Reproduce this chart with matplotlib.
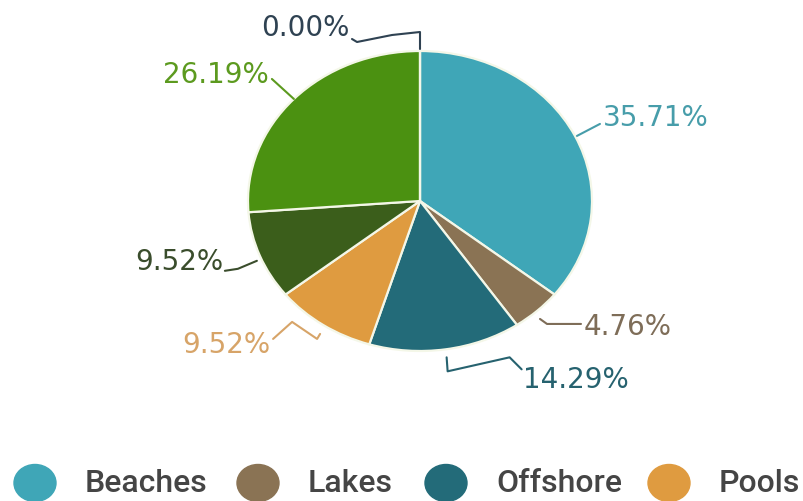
import numpy as np
import matplotlib
matplotlib.use("Agg")
import matplotlib.pyplot as plt
from matplotlib.patches import Ellipse

categories = ["Beaches", "Lakes", "Offshore", "Pools", "Rivers", "Lagoons", "Other"]
values = [35.71, 4.76, 14.29, 9.52, 9.52, 26.19, 0.00]
colors = ["#3FA6B7", "#8A7354", "#236B79", "#DF9B40", "#3B5E1B", "#4B9111", "#2C4356"]
label_colors = ["#479DAA", "#7E6D58", "#26626F", "#D7A468", "#3A4D2C", "#5C9A1F", "#2F4252"]
legend_items = 4

plt.rcParams['font.family'] = ['DejaVu Sans']

W, H = 804, 502
fig = plt.figure(figsize=(W / 100, H / 100), dpi=100)

cx, cy, rx, ry = 420, 202, 172, 150
ax = fig.add_axes([(cx - rx) / W, 1 - (cy + ry) / H, 2 * rx / W, 2 * ry / H])
wedges, _ = ax.pie(values, colors=colors, startangle=90, counterclock=False,
                   radius=1, wedgeprops=dict(edgecolor="#F4F7E8", linewidth=1.6))
ax.set_xlim(-1, 1)
ax.set_ylim(-1, 1)
ax.set_aspect('auto')
ax.axis('off')

ov = fig.add_axes([0, 0, 1, 1])
ov.set_xlim(0, W)
ov.set_ylim(H, 0)
ov.axis('off')

# label text positions and connector paths (pixel offsets relative to wedge mid-point on the rim)
text_pos = [(656, 118), (628, 327), (576, 380), (226, 345), (179, 262), (216, 75), (305, 28)]
connectors = [
    [(2, 0), (25, -12)],
    [(3, 8), (10, 13), (44, 13)],
    [(1, 8), (2, 22), (64, 8), (76, 20)],
    [(-3, 9), (-6, 14), (-31, -3), (-50, 14)],
    [(-3, 5), (-22, 13), (-35, 15)],
    [(0, 0), (-22, -20)],
    [(0, -2), (0, -19), (-28, -16), (-63, -9), (-68, -12)],
]

total = sum(values)
start = 90.0
for i, v in enumerate(values):
    ang = start - v / total * 360 / 2
    start -= v / total * 360
    px = cx + rx * np.cos(np.radians(ang))
    py = cy - ry * np.sin(np.radians(ang))
    pts = np.array(connectors[i], dtype=float) + np.array([px, py])
    ov.plot(pts[:, 0], pts[:, 1], color=label_colors[i], lw=1.5, solid_capstyle='round',
            solid_joinstyle='round')
    ov.text(text_pos[i][0], text_pos[i][1], f"{v:.2f}%", color=label_colors[i],
            fontsize=20, ha='center', va='center')

# legend
lx = [35, 258, 446, 669]
for i in range(legend_items):
    ov.add_patch(Ellipse((lx[i], 484), 42, 37, color=colors[i]))
    ov.text(lx[i] + 50, 484, categories[i], fontsize=23, color="#454545",
            family=['Roboto', 'DejaVu Sans'], fontweight='medium',
            ha='left', va='center')

fig.savefig("out.png", dpi=100, facecolor="white")
